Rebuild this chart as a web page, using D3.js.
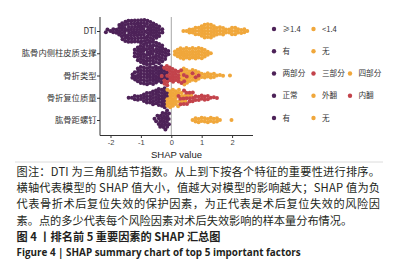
<!DOCTYPE html>
<html><head><meta charset="utf-8">
<script src="https://cdn.jsdelivr.net/npm/d3@7"></script>
<style>
html,body{margin:0;padding:0;background:#fff;}
svg{display:block;}
</style></head>
<body>
<script>
// ---- data ----
const features = ["DTI", "肱骨内侧柱皮质支撑", "骨折类型", "骨折复位质量", "肱骨距螺钉"];
const xTicks = [-2, -1, 0, 1, 2];
const levelLabels = [["≥1.4", "<1.4"], ["有", "无"], ["两部分", "三部分", "四部分"], ["正常", "外翻", "内翻"], ["有", "无"]];
const levelColors = [["purple", "orange"], ["purple", "orange"], ["purple", "red", "orange"], ["purple", "orange", "red"], ["purple", "orange"]];

// [SHAP value, number of samples]
const dtiHigh = [[-2.15,1],[-2.1,1],[-2.0,1],[-1.9,2],[-1.8,2],[-1.7,4],[-1.6,6],[-1.5,7],[-1.4,8],[-1.3,8],[-1.2,8],[-1.1,8],[-1.0,8],[-0.9,8],[-0.8,7],[-0.7,7],[-0.6,6],[-0.5,5],[-0.4,4],[-0.3,2]];
const dtiLow = [[0.4,1],[0.5,1],[0.6,2],[0.7,2],[0.8,3],[0.9,3],[1.0,4],[1.1,5],[1.2,5],[1.3,5],[1.4,4],[1.5,3],[1.6,3],[1.7,3],[1.8,2],[1.9,2],[2.0,3],[2.1,3],[2.2,2],[2.3,2],[2.4,2],[2.5,1]];
const supportYes = [[-1.2,3],[-1.1,5],[-1.0,7],[-0.9,7],[-0.8,8],[-0.7,8],[-0.6,8],[-0.5,7],[-0.4,7],[-0.3,6],[-0.2,4],[-0.1,2]];
const supportNo = [[0.15,2],[0.2,3],[0.3,4],[0.4,4],[0.5,4],[0.6,4],[0.7,4],[0.8,4],[0.9,4],[1.0,4],[1.1,3],[1.2,2],[1.3,1]];
const typeTwo = [[-1.25,2],[-1.2,3],[-1.1,5],[-1.0,6],[-0.9,6],[-0.8,6],[-0.7,6],[-0.6,6],[-0.5,6],[-0.4,5],[-0.3,5],[-0.2,3],[-0.15,2]];
const typeThree = [[-0.25,4],[-0.15,5],[-0.05,5],[0.05,5],[0.15,4],[0.25,4],[0.35,3],[0.45,2],[0.7,1],[0.8,1],[0.9,1]];
const typeFour = [[0.3,3],[0.4,4],[0.5,4],[0.6,4],[0.7,3],[0.8,3],[0.9,2],[1.0,2],[1.1,2],[1.2,2],[1.3,2],[1.4,2],[1.5,1],[1.6,1],[1.7,1],[1.93,1]];
const reduNormal = [[-1.4,1],[-1.3,1],[-1.2,2],[-1.1,2],[-1.0,2],[-0.9,3],[-0.8,4],[-0.7,4],[-0.6,5],[-0.5,5],[-0.4,6],[-0.3,6],[-0.2,6],[-0.15,3]];
const reduValgus = [[-0.15,4],[-0.05,6],[0.05,6],[0.15,5],[0.25,4],[0.35,3],[0.45,2],[0.55,1],[0.65,1]];
const reduVarus = [[0.2,1],[0.3,2],[0.4,3],[0.5,3],[0.6,3],[0.7,3],[0.8,2],[0.9,2],[1.0,2],[1.1,2],[1.2,2],[1.3,1],[1.4,1],[1.5,1]];
const screwYes = [[-0.55,1],[-0.5,1],[-0.45,1],[-0.4,2],[-0.35,2],[-0.3,3],[-0.25,4],[-0.2,4],[-0.15,4],[-0.1,3]];
const screwNo = [[0.7,1],[0.8,2],[0.9,2],[1.0,2],[1.1,2],[1.2,2],[1.3,2],[1.4,2],[1.5,2],[1.6,1],[1.98,1]];

// drawing order per row (later drawn on top)
const rowSeries = [
  [[dtiHigh, "purple"], [dtiLow, "orange"]],
  [[supportYes, "purple"], [supportNo, "orange"]],
  [[typeTwo, "purple"], [typeFour, "orange"], [typeThree, "red"]],
  [[reduNormal, "purple"], [reduValgus, "orange"], [reduVarus, "red"]],
  [[screwYes, "purple"], [screwNo, "orange"]]
];
const palette = {purple: "#4d2258", orange: "#f0a73b", red: "#c3434b"};

const captionLines = [
  "图注：DTI 为三角肌结节指数。从上到下按各个特征的重要性进行排序。",
  "横轴代表模型的 SHAP 值大小，值越大对模型的影响越大；SHAP 值为负",
  "代表骨折术后复位失效的保护因素，为正代表是术后复位失效的风险因",
  "素。点的多少代表每个风险因素对术后失效影响的样本量分布情况。"
];
const titleZh = "图 4 丨排名前 5 重要因素的 SHAP 汇总图";
const titleEn = "Figure 4  |  SHAP summary chart of top 5 important factors";

// ---- drawing ----
const W = 417, H = 265;
const svg = d3.select("body").append("svg").attr("width", W).attr("height", H);
const cjk = "'Noto Sans CJK SC', 'Noto Sans', sans-serif";

const x = d3.scaleLinear().domain([-2.345, 2.688]).range([100, 253]);
const y = d3.scalePoint().domain(features).range([31, 120]);

// zero line
svg.append("line").attr("x1", x(0)).attr("x2", x(0)).attr("y1", 17).attr("y2", 135)
  .attr("stroke", "#a6a6a6").attr("stroke-width", 1);

// beeswarm
const R = 2.0;
rowSeries.forEach((series, ri) => {
  const yc = y(features[ri]);
  const nodes = [];
  series.forEach(([bins, col]) => {
    bins.forEach(([v, c]) => {
      for (let k = 0; k < c; k++) {
        nodes.push({v, col, x: x(v), y: yc + (k % 2 ? 1 : -1) * (k + 1) * 0.6});
      }
    });
  });
  const sim = d3.forceSimulation(nodes)
    .force("x", d3.forceX(d => x(d.v)).strength(0.9))
    .force("y", d3.forceY(yc).strength(0.07))
    .force("c", d3.forceCollide(1.6).iterations(3))
    .stop();
  sim.tick(300);
  svg.append("g").selectAll("circle").data(nodes).join("circle")
    .attr("cx", d => d.x).attr("cy", d => d.y).attr("r", R)
    .attr("fill", d => palette[d.col]);
});

// axes
svg.append("line").attr("x1", 100).attr("x2", 100).attr("y1", 17).attr("y2", 135.5)
  .attr("stroke", "#333").attr("stroke-width", 1);
const ya = svg.append("g").attr("transform", "translate(100,0)")
  .call(d3.axisLeft(y).tickSize(3).tickPadding(0.5));
ya.select(".domain").remove();
ya.selectAll("line").attr("stroke", "#333");
ya.selectAll("text").attr("font-family", cjk).attr("font-size", 8.3).attr("fill", "#333");

const xa = svg.append("g").attr("transform", "translate(0,135)")
  .call(d3.axisBottom(x).tickValues(xTicks).tickSize(3).tickSizeOuter(0).tickPadding(1.5)
    .tickFormat(d => d < 0 ? "-" + Math.abs(d) : d));
xa.select(".domain").attr("stroke", "#333").attr("d", "M100,0.5H253");
xa.selectAll("line").attr("stroke", "#333");
xa.selectAll("text").attr("font-family", "'Liberation Sans', Arial, sans-serif").attr("font-size", 7.5).attr("fill", "#444");

svg.append("text").attr("x", 176.5).attr("y", 158).attr("text-anchor", "middle")
  .attr("font-family", "'Liberation Sans', Arial, sans-serif").attr("font-size", 9.5).attr("fill", "#222")
  .text("SHAP value");

// legend
const legX = [[274, 313.5], [274, 313.5], [274, 313.5, 350], [274, 313.5, 350], [274, 313.5]];
levelLabels.forEach((labs, ri) => {
  const ly = y(features[ri]) - 2;
  labs.forEach((lab, j) => {
    svg.append("circle").attr("cx", legX[ri][j]).attr("cy", ly).attr("r", 2.2).attr("fill", palette[levelColors[ri][j]]);
    svg.append("text").attr("x", legX[ri][j] + 8.5).attr("y", ly).attr("dy", "0.35em")
      .attr("font-family", cjk).attr("font-size", 7.6).attr("fill", "#333").text(lab);
  });
});

// caption
svg.append("line").attr("x1", 15).attr("x2", 383).attr("y1", 162).attr("y2", 162)
  .attr("stroke", "#dcdcdc").attr("stroke-width", 1);
captionLines.forEach((t, i) => {
  const tx = svg.append("text").attr("x", 16.5).attr("y", 171.7 + i * 16.3).attr("dy", "0.36em")
    .attr("font-family", cjk).attr("font-size", 11.2).attr("fill", "#231f20").text(t);
  if (i < 3) tx.attr("textLength", 363.5).attr("lengthAdjust", "spacing");
});
svg.append("text").attr("x", 16.5).attr("y", 236.7).attr("dy", "0.36em")
  .attr("font-family", cjk).attr("font-size", 11.2).attr("font-weight", "bold").attr("fill", "#231f20").text(titleZh);
svg.append("text").attr("x", 16.5).attr("y", 252.7).attr("dy", "0.36em")
  .attr("font-family", "'Open Sans', 'Noto Sans', sans-serif").attr("font-size", 9.9).attr("font-weight", "bold").attr("fill", "#231f20").text(titleEn);
</script>
</body></html>
